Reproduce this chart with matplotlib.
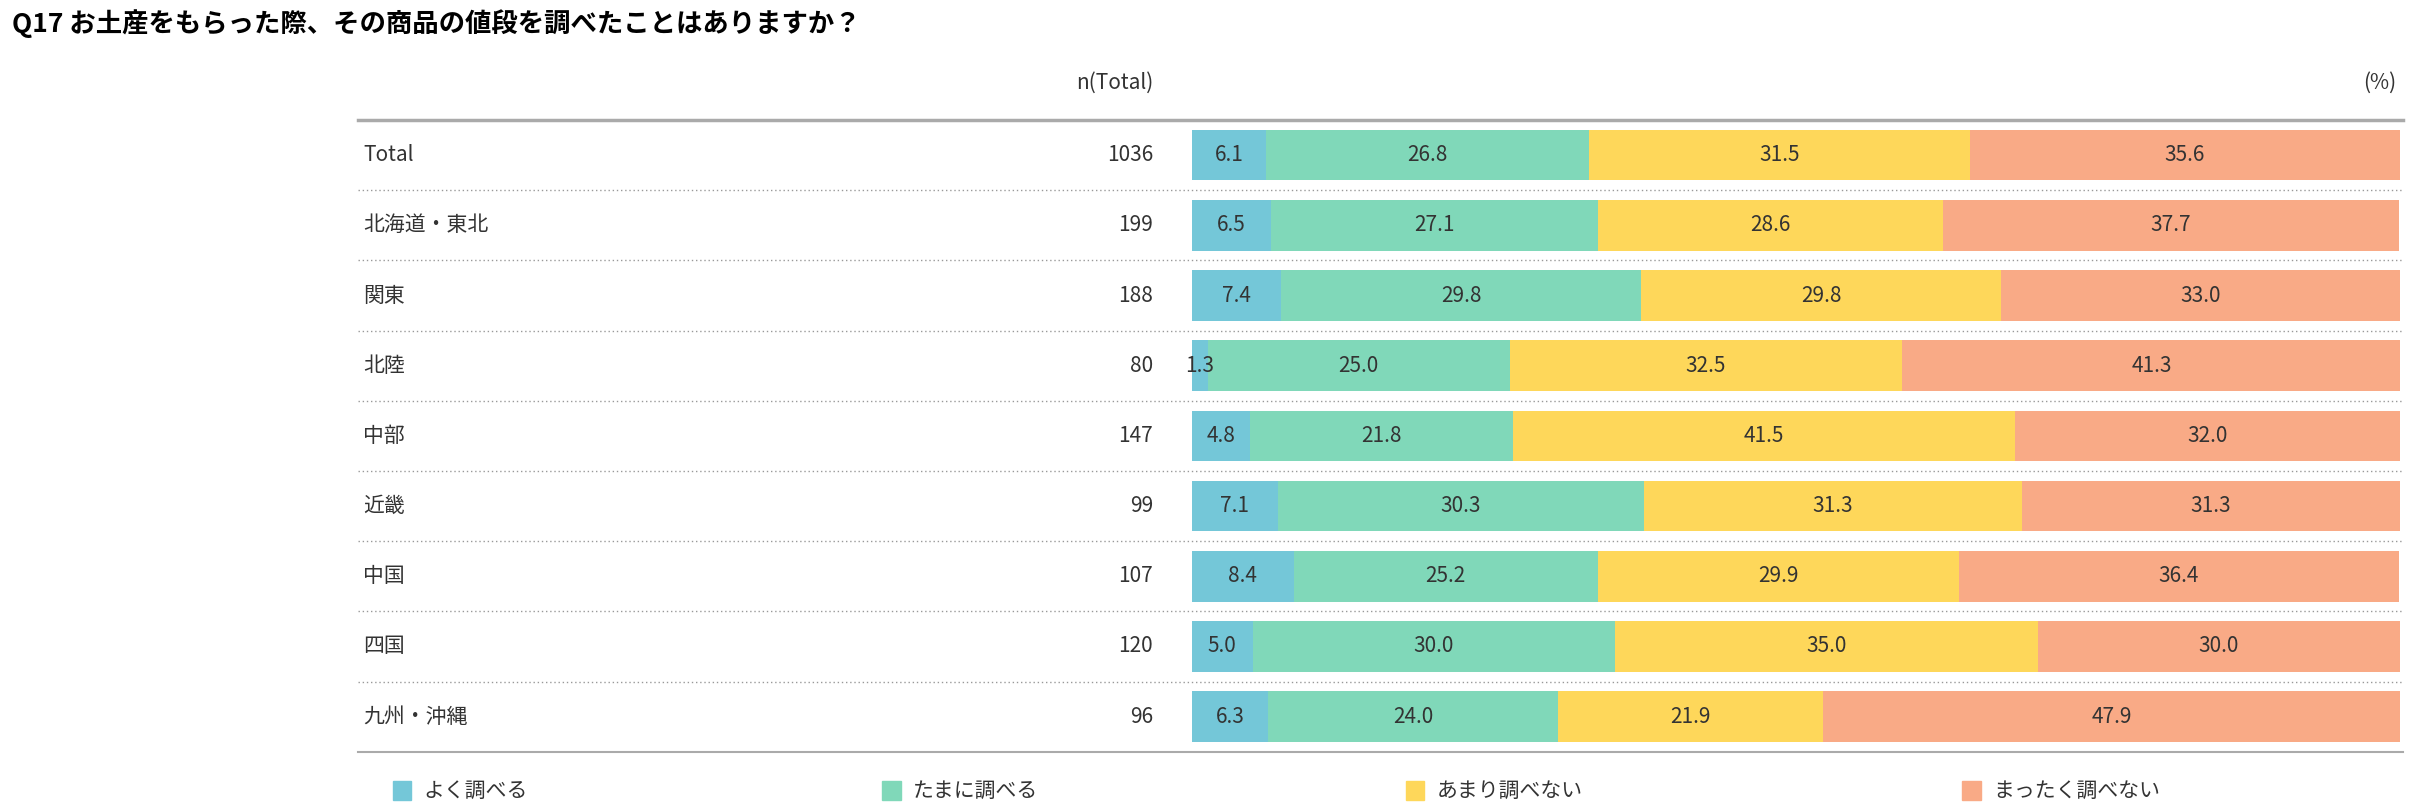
import matplotlib
matplotlib.use("Agg")
import matplotlib.pyplot as plt
from matplotlib.patches import Rectangle

plt.rcParams['font.family'] = ['Noto Sans CJK JP', 'DejaVu Sans']

title = "Q17 お土産をもらった際、その商品の値段を調べたことはありますか？"
categories = ["Total", "北海道・東北", "関東", "北陸", "中部", "近畿", "中国", "四国", "九州・沖縄"]
n_values = [1036, 199, 188, 80, 147, 99, 107, 120, 96]
series_names = ["よく調べる", "たまに調べる", "あまり調べない", "まったく調べない"]
yoku = [6.1, 6.5, 7.4, 1.3, 4.8, 7.1, 8.4, 5.0, 6.3]
tamani = [26.8, 27.1, 29.8, 25.0, 21.8, 30.3, 25.2, 30.0, 24.0]
amari = [31.5, 28.6, 29.8, 32.5, 41.5, 31.3, 29.9, 35.0, 21.9]
mattaku = [35.6, 37.7, 33.0, 41.3, 32.0, 31.3, 36.4, 30.0, 47.9]
colors = ["#74c7d8", "#80d8b9", "#fed75a", "#f9aa86"]

W, H = 1560, 520
fig = plt.figure(figsize=(24.31, 8.11), dpi=100)
# overlay in reference pixel units
ov = fig.add_axes([0, 0, 1, 1])
ov.set_xlim(0, W); ov.set_ylim(H, 0); ov.axis('off')

top, rowh = 77, 45
nrows = len(categories)
bx0, bx1 = 765, 1540
ax = fig.add_axes([bx0 / W, 1 - (top + nrows * rowh) / H, (bx1 - bx0) / W, nrows * rowh / H])
ax.set_xlim(0, 100); ax.set_ylim(nrows - 0.5, -0.5); ax.axis('off')

series = [yoku, tamani, amari, mattaku]
left = [0.0] * nrows
for vals, c in zip(series, colors):
    ax.barh(range(nrows), vals, left=left, height=0.72, color=c, edgecolor='none')
    for i, v in enumerate(vals):
        ax.text(left[i] + v / 2, i, f"{v:.1f}", ha='center', va='center', fontsize=15, color='#333333')
    left = [l + v for l, v in zip(left, vals)]

fs = 15
fig.text(8 / W, 1 - 15 / H, title, fontsize=19, fontweight='bold', va='center', ha='left')
ov.text(740, 53, "n(Total)", ha='right', va='center', fontsize=fs, color='#333333')
ov.text(1538, 53, "(%)", ha='right', va='center', fontsize=fs, color='#333333')
ov.plot([230, 1542], [top, top], color='#aaaaaa', lw=2.5)
for i, (cat, n) in enumerate(zip(categories, n_values)):
    yc = top + (i + 0.5) * rowh
    ov.text(233, yc, cat, ha='left', va='center', fontsize=fs, color='#333333')
    ov.text(740, yc, str(n), ha='right', va='center', fontsize=fs, color='#333333')
    yl = top + (i + 1) * rowh
    if i < nrows - 1:
        ov.plot([230, 1542], [yl, yl], color='#999999', lw=1, ls=(0, (1, 2)))
    else:
        ov.plot([230, 1542], [yl, yl], color='#aaaaaa', lw=1.5)

legx = [252, 566, 902, 1259]
for x, name, c in zip(legx, series_names, colors):
    ov.add_patch(Rectangle((x, 501), 12, 12, color=c))
    ov.text(x + 20, 507, name, ha='left', va='center', fontsize=fs, color='#333333')

fig.savefig("out.png", dpi=100)
